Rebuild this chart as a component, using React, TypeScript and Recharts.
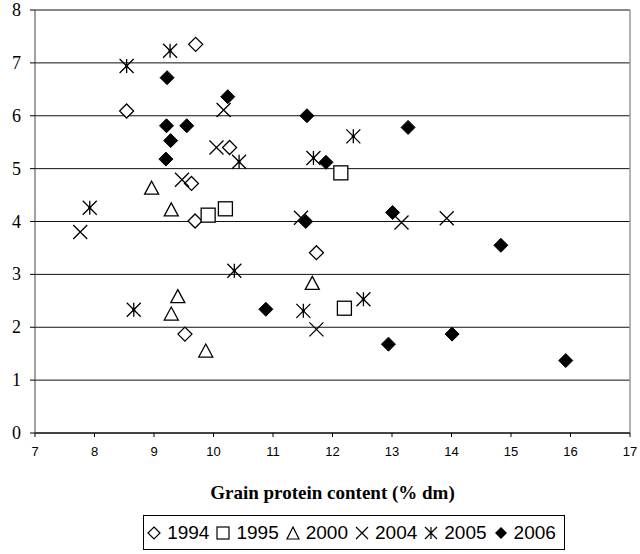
import { CartesianGrid, ReferenceLine, Scatter, ScatterChart, XAxis, YAxis } from 'recharts'

interface Pt {
  x: number
  y: number
}

const xTicks = [7, 8, 9, 10, 11, 12, 13, 14, 15, 16, 17]
const yTicks = [0, 1, 2, 3, 4, 5, 6, 7, 8]

const y1994: Pt[] = [
  { x: 9.7, y: 7.35 },
  { x: 8.54, y: 6.09 },
  { x: 10.27, y: 5.4 },
  { x: 9.63, y: 4.72 },
  { x: 9.69, y: 4.01 },
  { x: 11.73, y: 3.41 },
  { x: 9.52, y: 1.87 },
]
const y1995: Pt[] = [
  { x: 9.91, y: 4.12 },
  { x: 10.2, y: 4.24 },
  { x: 12.14, y: 4.92 },
  { x: 12.2, y: 2.36 },
]
const y2000: Pt[] = [
  { x: 8.96, y: 4.63 },
  { x: 9.29, y: 4.22 },
  { x: 11.66, y: 2.83 },
  { x: 9.4, y: 2.58 },
  { x: 9.29, y: 2.25 },
  { x: 9.87, y: 1.55 },
]
const y2004: Pt[] = [
  { x: 10.17, y: 6.11 },
  { x: 10.05, y: 5.4 },
  { x: 9.47, y: 4.79 },
  { x: 7.76, y: 3.8 },
  { x: 11.47, y: 4.07 },
  { x: 13.16, y: 3.98 },
  { x: 13.92, y: 4.06 },
  { x: 11.73, y: 1.96 },
]
const y2005: Pt[] = [
  { x: 9.27, y: 7.23 },
  { x: 8.54, y: 6.94 },
  { x: 10.43, y: 5.13 },
  { x: 12.35, y: 5.61 },
  { x: 11.68, y: 5.2 },
  { x: 7.92, y: 4.26 },
  { x: 10.35, y: 3.07 },
  { x: 8.66, y: 2.33 },
  { x: 11.51, y: 2.31 },
  { x: 12.52, y: 2.53 },
]
const y2006: Pt[] = [
  { x: 9.22, y: 6.72 },
  { x: 10.24, y: 6.36 },
  { x: 9.21, y: 5.81 },
  { x: 9.55, y: 5.81 },
  { x: 9.28, y: 5.53 },
  { x: 9.2, y: 5.18 },
  { x: 11.57, y: 6.0 },
  { x: 13.27, y: 5.78 },
  { x: 11.89, y: 5.12 },
  { x: 11.55, y: 4.0 },
  { x: 13.01, y: 4.17 },
  { x: 14.83, y: 3.55 },
  { x: 10.88, y: 2.34 },
  { x: 12.94, y: 1.68 },
  { x: 14.01, y: 1.87 },
  { x: 15.92, y: 1.37 },
]

const S = 7 // marker half size

function OpenDiamond({ cx, cy }: any) {
  return <path d={`M${cx},${cy - S} L${cx + S},${cy} L${cx},${cy + S} L${cx - S},${cy} Z`} fill="#fff" stroke="#000" strokeWidth={1.3} />
}
function FilledDiamond({ cx, cy }: any) {
  return <path d={`M${cx},${cy - S} L${cx + S},${cy} L${cx},${cy + S} L${cx - S},${cy} Z`} fill="#000" stroke="#000" strokeWidth={1} />
}
function OpenSquare({ cx, cy }: any) {
  return <rect x={cx - S} y={cy - S} width={S * 2} height={S * 2} fill="#fff" stroke="#000" strokeWidth={1.3} />
}
function OpenTriangle({ cx, cy }: any) {
  return <path d={`M${cx},${cy - S} L${cx + S},${cy + S - 1} L${cx - S},${cy + S - 1} Z`} fill="#fff" stroke="#000" strokeWidth={1.3} />
}
function Cross({ cx, cy }: any) {
  return <path d={`M${cx - S},${cy - S} L${cx + S},${cy + S} M${cx + S},${cy - S} L${cx - S},${cy + S}`} stroke="#000" strokeWidth={1.3} />
}
function Star({ cx, cy }: any) {
  return (
    <g>
      <path d={`M${cx - S},${cy - S} L${cx + S},${cy + S} M${cx + S},${cy - S} L${cx - S},${cy + S} M${cx},${cy - S} L${cx},${cy + S}`} stroke="#000" strokeWidth={1.3} />
      <circle cx={cx} cy={cy} r={1.6} fill="#000" />
    </g>
  )
}

function YTick({ x, y, payload }: any) {
  return (
    <text x={x} y={y} dy={6} textAnchor="end" fill="#000" style={{ fontFamily: '"Liberation Serif", serif', fontSize: 18 }}>
      {payload.value}
    </text>
  )
}

const legendItems = [
  { label: '1994', sym: 'od' },
  { label: '1995', sym: 'sq' },
  { label: '2000', sym: 'tr' },
  { label: '2004', sym: 'x' },
  { label: '2005', sym: 'st' },
  { label: '2006', sym: 'fd' },
]

function LegendSymbol({ sym }: { sym: string }) {
  const c = 8
  const s = 6
  let shape = null
  if (sym === 'od') shape = <path d={`M${c},${c - s} L${c + s},${c} L${c},${c + s} L${c - s},${c} Z`} fill="#fff" stroke="#000" strokeWidth={1.2} />
  if (sym === 'sq') shape = <rect x={c - s} y={c - s} width={s * 2} height={s * 2} fill="#fff" stroke="#000" strokeWidth={1.2} />
  if (sym === 'tr') shape = <path d={`M${c},${c - s} L${c + s},${c + s} L${c - s},${c + s} Z`} fill="#fff" stroke="#000" strokeWidth={1.2} />
  if (sym === 'x') shape = <path d={`M${c - s},${c - s} L${c + s},${c + s} M${c + s},${c - s} L${c - s},${c + s}`} stroke="#000" strokeWidth={1.2} />
  if (sym === 'st') shape = <path d={`M${c - s},${c - s} L${c + s},${c + s} M${c + s},${c - s} L${c - s},${c + s} M${c},${c - s} L${c},${c + s}`} stroke="#000" strokeWidth={1.2} />
  if (sym === 'fd') shape = <path d={`M${c},${c - s} L${c + s},${c} L${c},${c + s} L${c - s},${c} Z`} fill="#000" />
  return (
    <svg width={16} height={16} style={{ marginRight: 5 }}>
      {shape}
    </svg>
  )
}

export default function App() {
  return (
    <div style={{ position: 'absolute', left: 0, top: 0, width: 640, height: 554, background: '#fff' }}>
      <ScatterChart width={640} height={554} margin={{ top: 10, right: 10, left: 5, bottom: 51 }}>
        <CartesianGrid vertical={false} stroke="#111" strokeWidth={1} />
        <XAxis
          type="number"
          dataKey="x"
          domain={[7, 17]}
          ticks={xTicks}
          interval={0}
          height={70}
          tickSize={4}
          tickMargin={10}
          tick={{ fill: '#000', fontSize: 13, fontFamily: 'Liberation Sans' }}
          axisLine={{ stroke: '#000' }}
          tickLine={{ stroke: '#000' }}
          label={{ value: 'Grain protein content (% dm)', position: 'insideBottom', offset: 4, style: { fill: '#000', fontSize: 19, fontWeight: 'bold', fontFamily: 'Liberation Serif' } }}
        />
        <YAxis
          type="number"
          dataKey="y"
          domain={[0, 8]}
          ticks={yTicks}
          interval={0}
          width={30}
          tickSize={5}
          tickMargin={9}
          tick={<YTick />}
          axisLine={{ stroke: '#444' }}
          tickLine={{ stroke: '#000' }}
        />
        <ReferenceLine x={17} stroke="#999" strokeWidth={1.5} />
        <Scatter data={y1994} shape={OpenDiamond} isAnimationActive={false} />
        <Scatter data={y1995} shape={OpenSquare} isAnimationActive={false} />
        <Scatter data={y2000} shape={OpenTriangle} isAnimationActive={false} />
        <Scatter data={y2004} shape={Cross} isAnimationActive={false} />
        <Scatter data={y2005} shape={Star} isAnimationActive={false} />
        <Scatter data={y2006} shape={FilledDiamond} isAnimationActive={false} />
      </ScatterChart>
      <div
        style={{
          position: 'absolute',
          left: 143,
          top: 515,
          width: 422,
          height: 35,
          border: '1px solid #000',
          display: 'flex',
          alignItems: 'center',
          justifyContent: 'center',
          fontFamily: 'Liberation Sans',
          fontSize: 19,
          color: '#000',
          boxSizing: 'border-box',
        }}
      >
        {legendItems.map(it => (
          <span key={it.label} style={{ display: 'flex', alignItems: 'center', marginRight: 6 }}>
            <LegendSymbol sym={it.sym} />
            {it.label}
          </span>
        ))}
      </div>
    </div>
  )
}
